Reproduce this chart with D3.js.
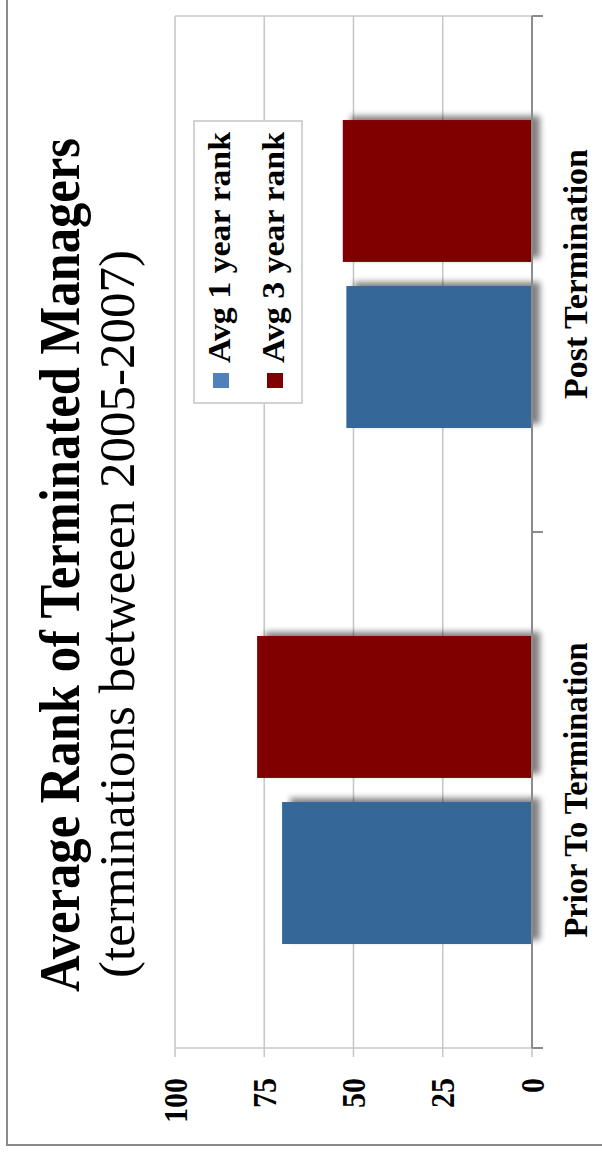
<!DOCTYPE html>
<html>
<head>
<meta charset="utf-8">
<script src="https://cdn.jsdelivr.net/npm/d3@7"></script>
<style>
  html, body { margin: 0; padding: 0; background: #fff; }
  svg { display: block; }
</style>
</head>
<body>
<svg id="chart" width="602" height="1157"></svg>
<script>
// ---- data ----
const categories = ["Prior To Termination", "Post Termination"];
const seriesNames = ["Avg 1 year rank", "Avg 3 year rank"];
const avg1Year = [70, 52];
const avg3Year = [77, 53];
const valueTicks = [0, 25, 50, 75, 100];
const titleText = "Average Rank of Terminated Managers";
const subtitleText = "(terminations betweeen 2005-2007)";

const barColors = ["#346899", "#800000"];
const legendColors = ["#4F81BD", "#800000"];
const FONT = "'Liberation Serif', 'Times New Roman', 'DejaVu Serif', serif";

const svg = d3.select("#chart");
const defs = svg.append("defs");
const f = defs.append("filter").attr("id", "shadow")
  .attr("x", "-10%").attr("y", "-10%").attr("width", "130%").attr("height", "130%");
f.append("feGaussianBlur").attr("in", "SourceAlpha").attr("stdDeviation", 3).attr("result", "b");
f.append("feOffset").attr("in", "b").attr("dx", 4).attr("dy", 8).attr("result", "o");
f.append("feComponentTransfer").attr("in", "o").attr("result", "o2")
  .append("feFuncA").attr("type", "linear").attr("slope", 0.5);
const fm = f.append("feMerge");
fm.append("feMergeNode").attr("in", "o2");
fm.append("feMergeNode").attr("in", "SourceGraphic");

// chart drawn in its own (unrotated) frame, then rotated -90deg onto the page
const W = 1157;
const g = svg.append("g").attr("transform", `translate(0,${W}) rotate(-90)`);

// outer border (visible left & bottom on page)
g.append("path")
  .attr("d", `M12,1200 L12,7 L1200,7`)
  .attr("fill", "none").attr("stroke", "#8a8a8a").attr("stroke-width", 2);

const x0 = d3.scaleBand().domain(categories).range([109, 1141])
  .paddingInner(0.403).paddingOuter(0.2015);
const x1 = d3.scaleBand().domain(seriesNames).range([0, x0.bandwidth()]).paddingInner(0.145);
const y = d3.scaleLinear().domain([0, 100]).range([532, 175]);

// gridlines + value ticks
const grid = g.append("g");
grid.selectAll("line.grid").data(valueTicks).join("line")
  .attr("x1", 100).attr("x2", 1141)
  .attr("y1", d => y(d)).attr("y2", d => y(d))
  .attr("stroke", "#c8c8c8").attr("stroke-width", 1.6);
[109, 1141].forEach(xx => {
  grid.append("line").attr("x1", xx).attr("x2", xx)
    .attr("y1", y(100)).attr("y2", y(0))
    .attr("stroke", "#c8c8c8").attr("stroke-width", 1.6);
});

// bars
const data = categories.map((c, i) => ({ c, vals: [avg1Year[i], avg3Year[i]] }));
const groups = g.append("g").selectAll("g").data(data).join("g")
  .attr("transform", d => `translate(${x0(d.c)},0)`);
groups.selectAll("rect").data(d => d.vals.map((v, j) => ({ s: seriesNames[j], v, j })))
  .join("rect")
  .attr("x", d => x1(d.s))
  .attr("width", x1.bandwidth())
  .attr("y", d => y(d.v))
  .attr("height", d => y(0) - y(d.v))
  .attr("fill", d => barColors[d.j])
  .attr("filter", "url(#shadow)");

// category axis
const axisG = g.append("g").attr("transform", `translate(0,${y(0)})`);
axisG.append("line").attr("x1", 109).attr("x2", 1141).attr("y1", 0).attr("y2", 0)
  .attr("stroke", "#8c8c8c").attr("stroke-width", 2);
const bounds = [109, x0(categories[1]) - x0.step() * x0.paddingInner() / 2, 1141];
axisG.selectAll("line.tk").data(bounds).join("line").attr("class", "tk")
  .attr("x1", d => d).attr("x2", d => d).attr("y1", 0).attr("y2", 11)
  .attr("stroke", "#8c8c8c").attr("stroke-width", 2);
const catLen = [295, 250];
axisG.selectAll("text.cat").data(categories).join("text").attr("class", "cat")
  .attr("x", d => x0(d) + x0.bandwidth() / 2)
  .attr("y", 55)
  .attr("text-anchor", "middle")
  .attr("font-family", FONT)
  .attr("font-size", 34).attr("font-weight", "bold").attr("fill", "#000")
  .attr("textLength", (d, i) => catLen[i]).attr("lengthAdjust", "spacingAndGlyphs")
  .text(d => d);

// value labels
g.append("g").selectAll("text").data(valueTicks).join("text")
  .attr("x", 79).attr("y", d => y(d)).attr("dy", "0.35em")
  .attr("text-anchor", "end")
  .attr("font-family", FONT)
  .attr("font-size", 33).attr("font-weight", "bold").attr("fill", "#000")
  .attr("textLength", d => String(d).length * 15).attr("lengthAdjust", "spacingAndGlyphs")
  .text(d => d);

// title
g.append("text").attr("x", 165).attr("y", 79)
  .attr("font-family", FONT)
  .attr("font-size", 56).attr("font-weight", "bold").attr("fill", "#000")
  .attr("textLength", 854).attr("lengthAdjust", "spacingAndGlyphs")
  .text(titleText);
g.append("text").attr("x", 179).attr("y", 134)
  .attr("font-family", FONT)
  .attr("font-size", 50).attr("fill", "#000")
  .attr("textLength", 728).attr("lengthAdjust", "spacingAndGlyphs")
  .text(subtitleText);

// legend
const lg = g.append("g");
lg.append("rect").attr("x", 754).attr("y", 194).attr("width", 282).attr("height", 108)
  .attr("fill", "#fff").attr("stroke", "#c8c8c8").attr("stroke-width", 1.6);
const items = lg.selectAll("g").data(seriesNames).join("g")
  .attr("transform", (d, i) => `translate(769,${213 + i * 54})`);
items.append("rect").attr("width", 15).attr("height", 16)
  .attr("fill", (d, i) => legendColors[i]);
items.append("text").attr("x", 25).attr("y", 17)
  .attr("font-family", FONT)
  .attr("font-size", 32).attr("font-weight", "bold").attr("fill", "#000")
  .attr("textLength", 231).attr("lengthAdjust", "spacingAndGlyphs")
  .text(d => d);
</script>
</body>
</html>
